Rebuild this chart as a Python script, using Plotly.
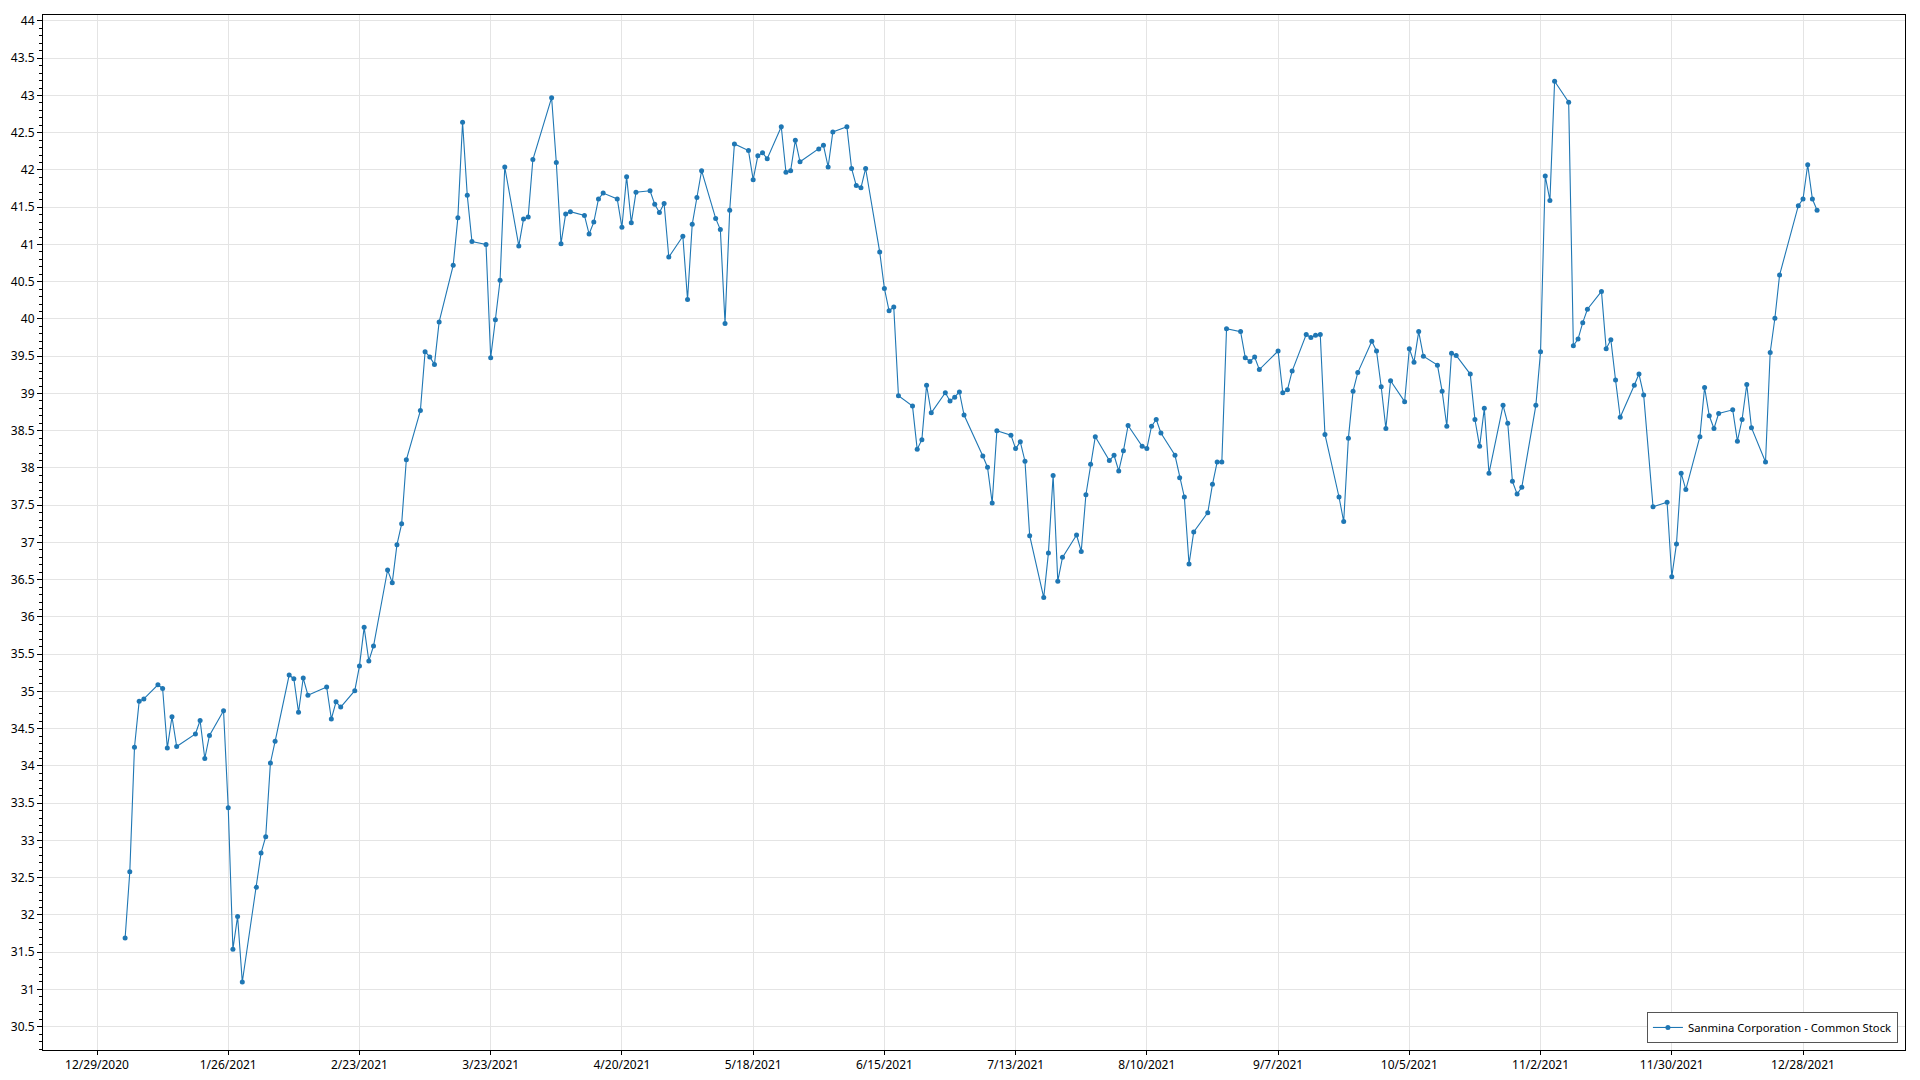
import pandas as pd
import plotly.graph_objects as go

SERIES_NAME = "Sanmina Corporation - Common Stock"

HOLIDAYS = ["2021-01-01", "2021-01-18", "2021-02-15", "2021-04-02", "2021-05-31",
            "2021-07-05", "2021-09-06", "2021-11-25", "2021-12-24"]

jan = [31.69, 32.58, 34.25, 34.87, 34.90, 35.09, 35.04, 34.24, 34.66, 34.26, 34.43, 34.61,
       34.10, 34.41, 34.74, 33.44, 31.54, 31.98, 31.10]
feb = [32.37, 32.83, 33.05, 34.04, 34.33, 35.22, 35.17, 34.72, 35.18, 34.95, 35.06, 34.63,
       34.86, 34.79, 35.01, 35.34, 35.86, 35.41, 35.61]
mar = [36.63, 36.46, 36.97, 37.25, 38.11, 38.77, 39.56, 39.49, 39.39, 39.96, 40.72, 41.36,
       42.64, 41.66, 41.04, 41.00, 39.48, 39.99, 40.52, 42.04, 40.98, 41.34, 41.37]
apr = [42.14, 42.97, 42.10, 41.01, 41.41, 41.44, 41.39, 41.14, 41.30, 41.61, 41.69, 41.61,
       41.23, 41.91, 41.29, 41.70, 41.72, 41.54, 41.43, 41.55, 40.83]
may = [41.11, 40.26, 41.27, 41.63, 41.99, 41.35, 41.20, 39.94, 41.46, 42.35, 42.26, 41.87,
       42.19, 42.23, 42.15, 42.58, 41.97, 41.99, 42.40, 42.11]
jun = [42.28, 42.33, 42.04, 42.51, 42.58, 42.02, 41.79, 41.76, 42.02, 40.90, 40.41, 40.11,
       40.16, 38.97, 38.83, 38.25, 38.38, 39.11, 38.74, 39.01, 38.90, 38.95]
jul = [39.02, 38.71, 38.16, 38.01, 37.53, 38.50, 38.44, 38.26, 38.35, 38.09, 37.09, 36.26,
       36.86, 37.90, 36.48, 36.80, 37.10, 36.88, 37.64, 38.05, 38.42]
aug = [38.10, 38.17, 37.96, 38.23, 38.57, 38.29, 38.26, 38.56, 38.65, 38.47, 38.17, 37.87,
       37.61, 36.71, 37.14, 37.40, 37.78, 38.08, 38.08, 39.87, 39.83, 39.48]
sep = [39.43, 39.49, 39.32, 39.57, 39.01, 39.05, 39.30, 39.79, 39.75, 39.78, 39.79, 38.45,
       37.61, 37.28, 38.40, 39.03, 39.28, 39.70, 39.57, 39.09, 38.53]
oct_ = [39.17, 38.89, 39.60, 39.42, 39.83, 39.50, 39.38, 39.03, 38.56, 39.54, 39.51, 39.26,
        38.65, 38.29, 38.80, 37.93, 38.84, 38.60, 37.82, 37.65, 37.74]
nov = [38.84, 39.56, 41.92, 41.59, 43.19, 42.91, 39.64, 39.73, 39.95, 40.13, 40.37, 39.60,
       39.72, 39.18, 38.68, 39.11, 39.26, 38.98, 37.48, 37.54, 36.54]
dec = [36.98, 37.93, 37.71, 38.42, 39.08, 38.70, 38.53, 38.73, 38.78, 38.36, 38.65, 39.12,
       38.54, 38.08, 39.55, 40.01, 40.59, 41.52, 41.61, 42.07, 41.61, 41.46]

X_TICK_LABELS = ["12/29/2020", "1/26/2021", "2/23/2021", "3/23/2021", "4/20/2021",
                 "5/18/2021", "6/15/2021", "7/13/2021", "8/10/2021", "9/7/2021",
                 "10/5/2021", "11/2/2021", "11/30/2021", "12/28/2021"]

prices = jan + feb + mar + apr + may + jun + jul + aug + sep + oct_ + nov + dec
dates = pd.bdate_range("2021-01-04", "2021-12-31", freq="C", holidays=HOLIDAYS)
assert len(dates) == len(prices), (len(dates), len(prices))

tickvals = pd.to_datetime(X_TICK_LABELS, format="%m/%d/%Y")

FONT = "Segoe UI, Noto Sans, sans-serif"
COLOR = "#1f77b4"

fig = go.Figure()
fig.add_trace(go.Scatter(
    x=dates, y=prices, mode="lines+markers", name=SERIES_NAME,
    line=dict(color=COLOR, width=1.1),
    marker=dict(color=COLOR, size=5),
))

fig.update_layout(
    width=1904, height=1070,
    margin=dict(l=35, r=7, t=7, b=28),
    paper_bgcolor="white", plot_bgcolor="white",
    font=dict(family=FONT, size=12, color="#000000"),
    showlegend=True,
    legend=dict(
        x=0.9962, y=0.0068, xanchor="right", yanchor="bottom",
        bgcolor="white", bordercolor="#555555", borderwidth=1,
        font=dict(family=FONT, size=11.3, color="#000000"),
        itemwidth=30,
    ),
    xaxis=dict(
        type="date", automargin=False,
        range=["2020-12-17 11:30", "2022-01-18 18:15"],
        tickmode="array", tickvals=tickvals, ticktext=X_TICK_LABELS,
        showgrid=True, gridcolor="#e4e4e4", gridwidth=1,
        showline=True, linecolor="#000000", linewidth=1, mirror=True,
        ticks="outside", ticklen=4, tickcolor="#000000",
        zeroline=False,
    ),
    yaxis=dict(
        automargin=False,
        range=[30.187, 44.08],
        dtick=0.5, tick0=30,
        showgrid=True, gridcolor="#e4e4e4", gridwidth=1,
        showline=True, linecolor="#000000", linewidth=1, mirror=True,
        ticks="outside", ticklen=5, tickcolor="#000000",
        minor=dict(dtick=0.1, ticks="outside", ticklen=3, tickcolor="#000000", showgrid=False),
        zeroline=False,
    ),
)

fig.write_html("out.html")
